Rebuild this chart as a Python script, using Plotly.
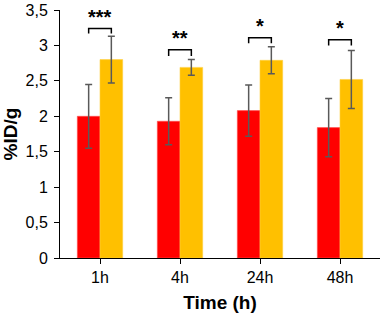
import plotly.graph_objects as go

categories = ["1h", "4h", "24h", "48h"]
red_values = [2.00, 1.93, 2.08, 1.84]
red_errors = [0.45, 0.33, 0.36, 0.41]
yellow_values = [2.80, 2.69, 2.79, 2.52]
yellow_errors = [0.33, 0.11, 0.19, 0.41]
sig_labels = ["***", "**", "*", "*"]
bracket_tops = [3.24, 2.94, 3.11, 3.08]
bracket_feet = [3.17, 2.85, 3.03, 3.00]
star_y = [3.22, 2.92, 3.09, 3.06]
y_ticks = [0, 0.5, 1, 1.5, 2, 2.5, 3, 3.5]
y_tick_labels = ["0", "0,5", "1", "1,5", "2", "2,5", "3", "3,5"]

FONT = "Liberation Sans, Arial, sans-serif"
err_style = dict(type="data", thickness=1.5, width=3.5, color="#595959")

fig = go.Figure()
fig.add_trace(go.Bar(x=categories, y=red_values, marker_color="#FF0000",
                     marker_line=dict(color="#FF5050", width=0.6),
                     error_y=dict(array=red_errors, **err_style), name="A"))
fig.add_trace(go.Bar(x=categories, y=yellow_values, marker_color="#FFC000",
                     marker_line=dict(color="#FFD040", width=0.6),
                     error_y=dict(array=yellow_errors, **err_style), name="B"))

bargap = 0.433
half = (1 - bargap) / 4
shapes = []
annotations = []
for i, lab in enumerate(sig_labels):
    x0 = i - half
    x1 = i + half
    shapes.append(dict(type="path", xref="x", yref="y",
                       path=f"M {x0},{bracket_feet[i]} L {x0},{bracket_tops[i]} L {x1},{bracket_tops[i]} L {x1},{bracket_feet[i]}",
                       line=dict(color="#000000", width=1.5)))
    annotations.append(dict(x=i, y=star_y[i], xref="x", yref="y", text="<b>" + lab + "</b>",
                            showarrow=False, yanchor="bottom",
                            font=dict(family=FONT, size=20, color="#000")))

fig.update_layout(
    width=383, height=316,
    margin=dict(l=59.5, r=3, t=10, b=58),
    plot_bgcolor="white", paper_bgcolor="white",
    barmode="group", bargap=bargap, bargroupgap=0,
    showlegend=False,
    shapes=shapes, annotations=annotations,
    font=dict(family=FONT, color="#000"),
)
fig.update_xaxes(
    range=[-0.5, 3.5], showline=True, linecolor="#000", linewidth=1,
    ticks="outside", ticklen=5, tickcolor="#000", tickfont=dict(size=16, color="#000"),
    title=dict(text="<b>Time (h)</b>", font=dict(size=19, color="#000"), standoff=10),
    showgrid=False, zeroline=False, automargin=False, ticklabeloverflow="allow",
)
fig.update_yaxes(
    range=[0, 3.5], tickvals=y_ticks, ticktext=y_tick_labels,
    showline=True, linecolor="#000", linewidth=1,
    ticks="outside", ticklen=5, tickcolor="#000", tickfont=dict(size=16, color="#000"),
    ticklabelstandoff=3, ticklabeloverflow="allow",
    title=dict(text="<b>%ID/g</b>", font=dict(size=19, color="#000"), standoff=9),
    showgrid=False, zeroline=False, automargin=False,
)
fig.write_html("out.html", config={"displayModeBar": False},
               post_script="document.body.style.margin='0';document.body.style.overflow='hidden';")
